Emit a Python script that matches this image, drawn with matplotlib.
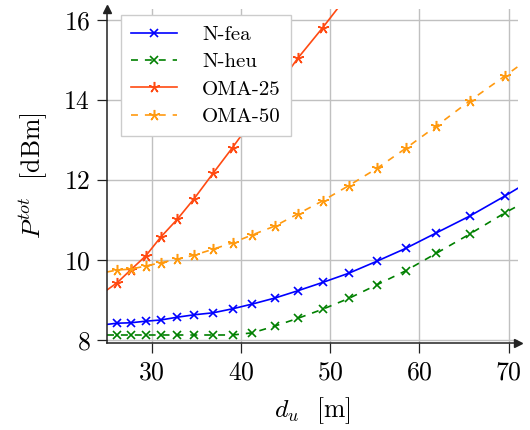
import matplotlib
matplotlib.use("Agg")
import matplotlib.pyplot as plt

plt.rcParams['font.family'] = ['cmr10', 'DejaVu Serif']
plt.rcParams['mathtext.fontset'] = 'cm'
plt.rcParams['axes.formatter.use_mathtext'] = True
plt.rcParams['lines.scale_dashes'] = False

# distances (x) for marked points, plus unmarked curve ends at 25 and 71
d_u = [25.0, 26.13, 27.64, 29.33, 31.01, 32.88, 34.75, 36.89, 39.06, 41.30,
       43.82, 46.36, 49.17, 52.09, 55.24, 58.46, 61.91, 65.65, 69.58, 71.0]

n_fea = [8.39, 8.42, 8.43, 8.47, 8.50, 8.57, 8.63, 8.68, 8.78, 8.90,
         9.05, 9.23, 9.44, 9.67, 9.97, 10.29, 10.68, 11.10, 11.60, 11.79]
n_heu = [8.125, 8.125, 8.125, 8.125, 8.125, 8.125, 8.125, 8.125, 8.125, 8.18,
         8.35, 8.54, 8.77, 9.04, 9.38, 9.73, 10.17, 10.65, 11.18, 11.35]
oma_25 = [9.25, 9.43, 9.75, 10.10, 10.57, 11.02, 11.53, 12.17, 12.81, 13.50,
          14.25, 15.04, 15.81, 16.65]
oma_50 = [9.70, 9.75, 9.77, 9.85, 9.93, 10.02, 10.12, 10.27, 10.43, 10.63,
          10.85, 11.15, 11.48, 11.86, 12.29, 12.79, 13.35, 13.98, 14.60, 14.83]

labels = ['N-fea', 'N-heu', 'OMA-25', 'OMA-50']
colors = ['#0000ff', '#008000', '#ff4a12', '#ff9a10']
xticks = [30, 40, 50, 60, 70]
yticks = [8, 10, 12, 14, 16]

fig = plt.figure(figsize=(5.3, 4.3), dpi=100)
ax = fig.add_axes([0.2019, 0.2028, 0.7747, 0.7758])

dash = (0, (5, 5))
star = (5, 2, 0)
ax.plot(d_u, n_fea, color=colors[0], lw=1.2, marker='x', ms=6, mew=1.2,
        markevery=slice(1, -1), label=labels[0])
ax.plot(d_u, n_heu, color=colors[1], lw=1.2, ls=dash, marker='x', ms=6, mew=1.2,
        markevery=slice(1, -1), label=labels[1])
ax.plot(d_u[:len(oma_25)], oma_25, color=colors[2], lw=1.2, marker=star, ms=8,
        mew=1.1, markevery=slice(1, None), label=labels[2])
ax.plot(d_u, oma_50, color=colors[3], lw=1.2, ls=dash, marker=star, ms=8, mew=1.1,
        markevery=slice(1, -1), label=labels[3])

ax.set_xlim(25, 71)
ax.set_ylim(7.93, 16.27)
ax.set_xticks(xticks)
ax.set_yticks(yticks)
ax.grid(True, color='#c0c0c0', lw=1.0)
ax.set_axisbelow(True)
for s in ['top', 'right']:
    ax.spines[s].set_visible(False)
for s in ['left', 'bottom']:
    ax.spines[s].set_color('#222222')
    ax.spines[s].set_linewidth(1.1)
ax.tick_params(direction='out', length=7, width=0.9, color='#222222',
               labelsize=18.5)
ax.tick_params(axis='x', pad=6)
ax.tick_params(axis='y', pad=5)
ax.plot(1.0, 0, marker='>', color='#222222', ms=6, transform=ax.transAxes,
        clip_on=False)
ax.plot(0, 1.0, marker='^', color='#222222', ms=6, transform=ax.transAxes,
        clip_on=False)

ax.set_xlabel(r'$d_u$  [m]', fontsize=18.5, labelpad=8)
ax.set_ylabel(r'$P^{tot}$  [dBm]', fontsize=18.5, labelpad=10)

leg = ax.legend(loc='upper left', bbox_to_anchor=(0.034, 0.983), fontsize=15,
                frameon=True, fancybox=False, framealpha=1, edgecolor='#cccccc',
                handlelength=2.2, handletextpad=1.2, labelspacing=0.42,
                borderpad=0.5, borderaxespad=0)
leg.get_frame().set_linewidth(1.0)

fig.savefig('out.png', dpi=100)
